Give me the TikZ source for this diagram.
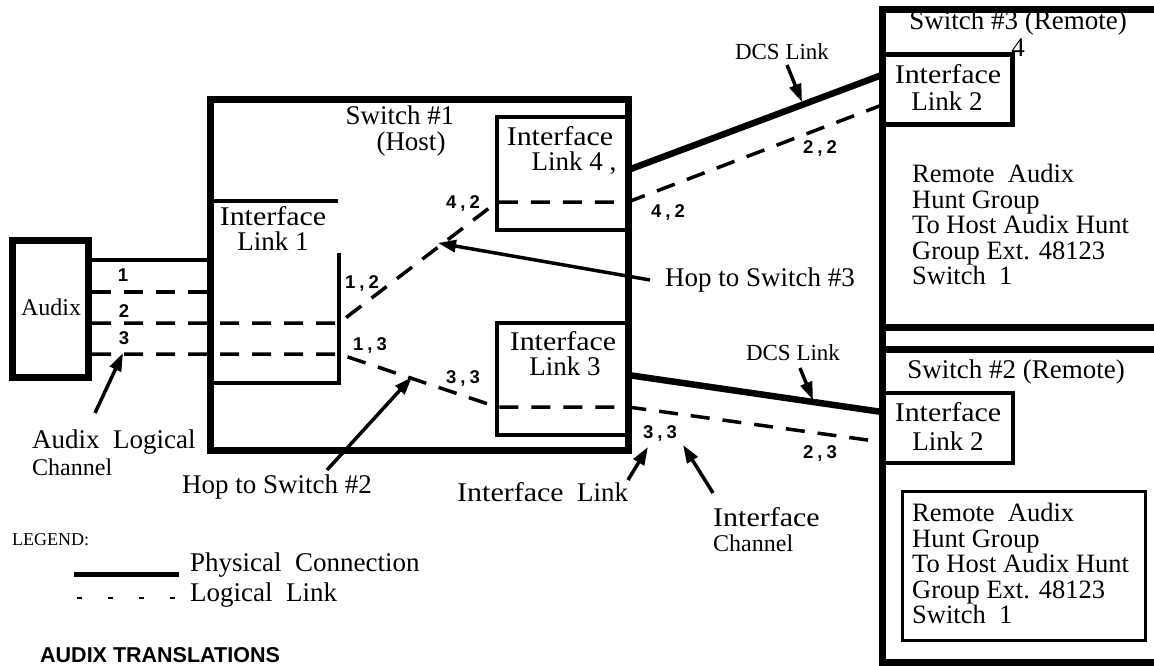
\documentclass[tikz,border=0pt]{standalone}
\usepackage{fontspec}
\setmainfont{Liberation Serif}
\newfontfamily\widefont{Liberation Serif}[FakeStretch=1.11]
\newfontfamily\sansbold{Liberation Sans}
\usetikzlibrary{arrows.meta}
\newcommand{\Ifc}{{\widefont Interface}}
\begin{document}
\begin{tikzpicture}[x=1pt,y=-1pt,
  txt/.style={inner sep=0pt, font=\fontsize{27}{28}\selectfont},
  txtm/.style={inner sep=0pt, font=\fontsize{26.5}{25.5}\selectfont, align=left},
  txts/.style={inner sep=0pt, font=\fontsize{24}{25}\selectfont},
  dcs/.style={inner sep=0pt, font=\fontsize{23}{24}\selectfont},
  num/.style={inner sep=0pt, font=\sansbold\bfseries\fontsize{18.5}{18.5}\selectfont},
  heavy/.style={line width=7pt},
  ifbox/.style={line width=3.5pt},
  logical/.style={line width=3.5pt, dash pattern=on 19pt off 13pt},
  physical/.style={line width=3.5pt},
  dcsline/.style={line width=6.5pt},
  pointer/.style={line width=3.5pt, -{Triangle[length=18pt,width=12pt]}},
]
\useasboundingbox (0,0) rectangle (1154,666);
\def\cm{\hspace{4pt},\hspace{4pt}}

% ---- coordinates
\coordinate (aR1) at (92,260);  \coordinate (s1L1) at (210,260);
\coordinate (aR2) at (92,292);  \coordinate (s1L2) at (210,292);
\coordinate (aR3) at (92,323);  \coordinate (if1a) at (339,323);
\coordinate (aR4) at (92,354);  \coordinate (if1b) at (339,354);
\coordinate (if4L) at (497,202); \coordinate (if4R) at (628,202);
\coordinate (if3L) at (497,407); \coordinate (if3R) at (628,407);
\coordinate (s3in) at (882,105); \coordinate (s2in) at (882,442);
\coordinate (p4) at (628,170);  \coordinate (p4e) at (882,75);
\coordinate (p3) at (628,375);  \coordinate (p3e) at (882,412);

% ---- Audix
\draw[heavy] (12,240) rectangle (88,377);
\node[txts] (audix) at (51,307) {Audix};

% ---- Switch 1
\draw[heavy] (210,100) rectangle (628,450);
\node[txt] (sw1a) at (400,115) {Switch \#1};
\node[txt] (sw1b) at (411,144) {(Host)};
\draw[ifbox] (210,201) -- (338,201);
\draw[ifbox] (339,253) -- (339,383) -- (210,383);
\node[txt] (if1t1) at (273,216) {\Ifc};
\node[txt] (if1t2) at (273,241) {Link 1};
\draw[ifbox] (628,117) -- (497,117) -- (497,230) -- (628,230);
\node[txt] (if4t1) at (560,136) {\Ifc};
\node[txt] (if4t2) at (574,163) {Link 4 ,};
\draw[ifbox] (628,323) -- (497,323) -- (497,435) -- (628,435);
\node[txt] (if3t1) at (563,341) {\Ifc};
\node[txt] (if3t2) at (565,366) {Link 3};

% ---- Switch 3 and Switch 2
\node[txt] (stray) at (1018,48) {4};
\draw[heavy] (1160,10) -- (882,10) -- (882,662) -- (1160,662);
\draw[heavy] (882,327) -- (1160,327);
\draw[heavy] (882,349) -- (1160,349);
\node[txt] (sw3) at (1018,23) {Switch \#3 (Remote)};
\draw[line width=5pt] (882,55) rectangle (1012,125);
\node[txt] (s3if1) at (948,74) {\Ifc};
\node[txt] (s3if2) at (947,101) {Link 2};
\node[txtm, anchor=north west] (s3txt) at (912,164) {Remote\ \ Audix\\Hunt Group\\To Host Audix Hunt\\Group Ext. 48123\\Switch\ \ 1};

\node[txt] (sw2) at (1016,372) {Switch \#2 (Remote)};
\draw[line width=4pt] (883,393) rectangle (1013,463);
\node[txt] (s2if1) at (948,412) {\Ifc};
\node[txt] (s2if2) at (948,441) {Link 2};
\draw[line width=3pt] (902,491) rectangle (1145,640);
\node[txtm, anchor=north west] (s2txt) at (912,503) {Remote\ \ Audix\\Hunt Group\\To Host Audix Hunt\\Group Ext. 48123\\Switch\ \ 1};

% ---- connections
\draw[physical] (aR1) -- (s1L1);
\draw[logical] (aR2) -- (s1L2);
\draw[logical] (aR3) -- (if1a) -- (if4L) -- (if4R) -- (s3in);
\draw[logical] (aR4) -- (if1b) -- (if3L) -- (if3R) -- (s2in);
\draw[dcsline] (p4) -- (p4e);
\draw[dcsline] (p3) -- (p3e);

% ---- numbers
\node[num] (n1) at (123,275) {1};
\node[num] (n2) at (124,311) {2};
\node[num] (n3) at (124,338) {3};
\node[num] (n12) at (362,283) {1\cm2};
\node[num] (n13) at (370,345) {1\cm3};
\node[num] (n42a) at (463,203) {4\cm2};
\node[num] (n42b) at (668,212) {4\cm2};
\node[num] (n22) at (820,148) {2\cm2};
\node[num] (n33a) at (463,378) {3\cm3};
\node[num] (n33b) at (660,433) {3\cm3};
\node[num] (n23) at (820,453) {2\cm3};

% ---- annotations
\node[dcs] (dcs1) at (782,52) {DCS Link};
\coordinate (dcs1s) at (787,65); \coordinate (dcs1t) at (802,102);
\draw[pointer] (dcs1s) -- (dcs1t);
\node[dcs] (dcs2) at (793,353) {DCS Link};
\coordinate (dcs2s) at (800,368); \coordinate (dcs2t) at (813,400);
\draw[pointer] (dcs2s) -- (dcs2t);

\node[txt, anchor=west] (hop3) at (665,280) {Hop to Switch \#3};
\coordinate (hop3s) at (650,280); \coordinate (hop3t) at (438,243);
\draw[pointer] (hop3s) -- (hop3t);

\node[txt, anchor=west] (hop2) at (182,487) {Hop to Switch \#2};
\coordinate (hop2s) at (327,470); \coordinate (hop2t) at (412,377);
\draw[pointer] (hop2s) -- (hop2t);

\node[txt, anchor=west] (alc1) at (32,442) {Audix\ \ Logical};
\node[txts, anchor=west] (alc2) at (32,467) {Channel};
\coordinate (alcs) at (95,413); \coordinate (alct) at (123,353);
\draw[pointer] (alcs) -- (alct);

\node[txt, anchor=west] (ifl) at (457,492) {\Ifc\ \ Link};
\coordinate (ifls) at (628,480); \coordinate (iflt) at (648,447);
\draw[pointer] (ifls) -- (iflt);

\node[txt, anchor=west] (ifc1) at (713,517) {\Ifc};
\node[txts, anchor=west] (ifc2) at (713,543) {Channel};
\coordinate (ifcs) at (713,493); \coordinate (ifct) at (683,445);
\draw[pointer] (ifcs) -- (ifct);

% ---- legend
\node[inner sep=0pt, anchor=west, font=\fontsize{18}{18}\selectfont] (leg) at (12,540) {LEGEND:};
\coordinate (lp1) at (74,574); \coordinate (lp2) at (179,574);
\draw[line width=5pt] (lp1) -- (lp2);
\node[txt, anchor=west] (legp) at (190,565) {Physical\ \ Connection};
\coordinate (ll1) at (77,598); \coordinate (ll2) at (177,598);
\draw[line width=1.5pt, dash pattern=on 5pt off 26pt] (ll1) -- (ll2);
\node[txt, anchor=west] (legl) at (190,595) {Logical\ \ Link};
\node[inner sep=0pt, anchor=west, font=\sansbold\bfseries\fontsize{21.5}{21.5}\selectfont] (trans) at (40,655) {AUDIX TRANSLATIONS};
\end{tikzpicture}
\end{document}
